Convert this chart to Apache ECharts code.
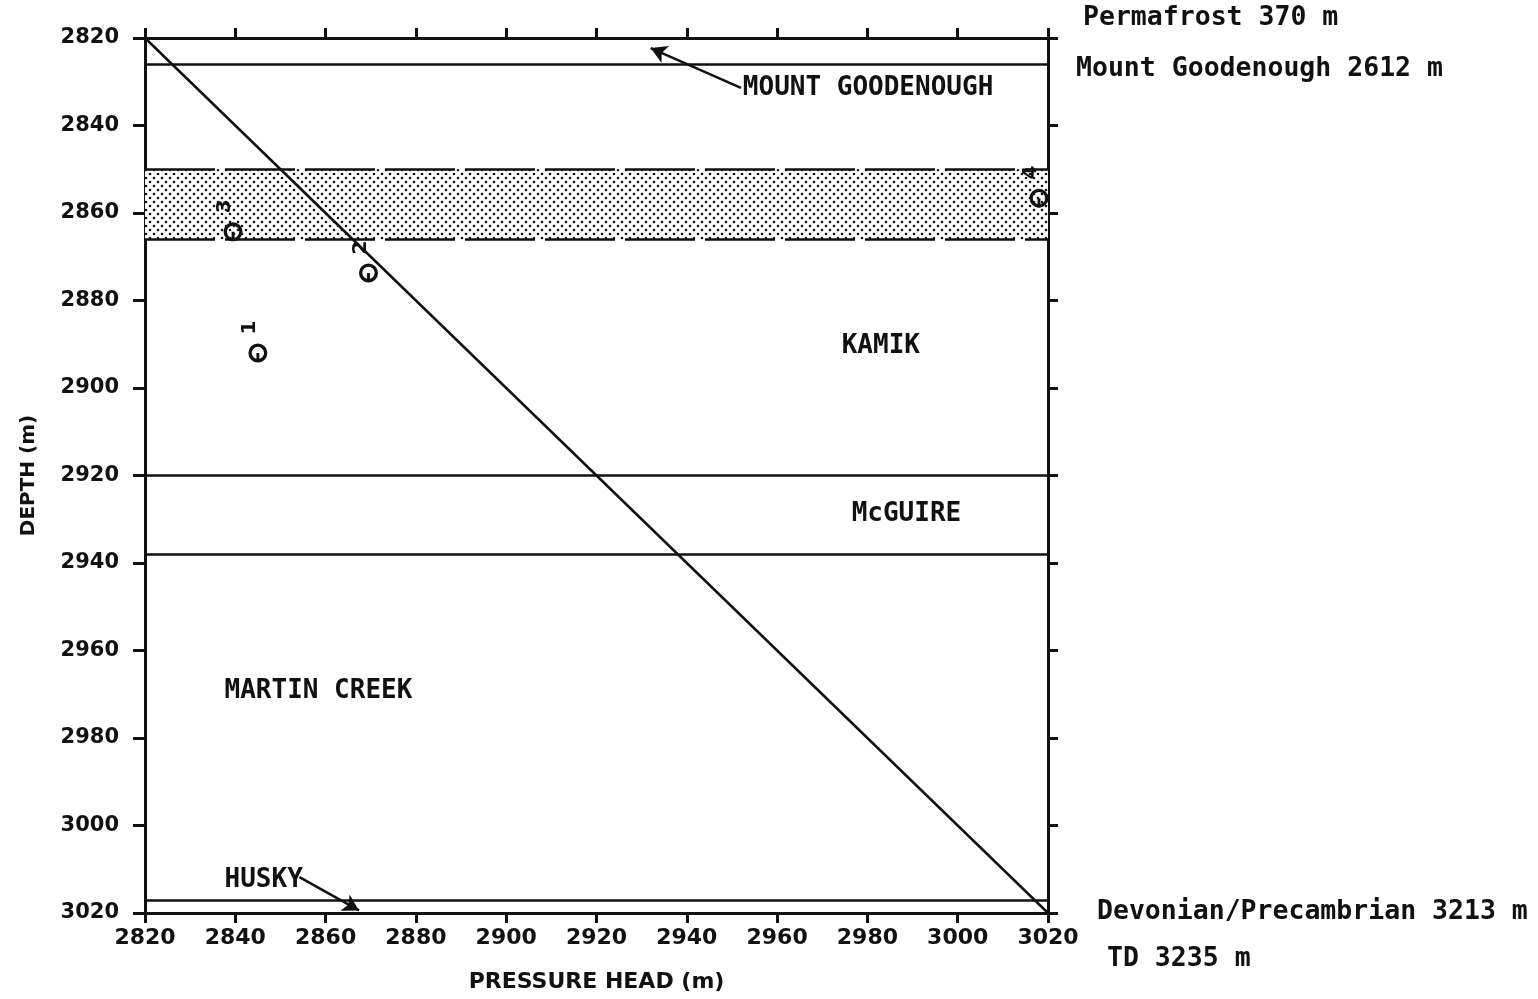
<!DOCTYPE html>
<html><head><meta charset="utf-8">
<script src="https://cdn.jsdelivr.net/npm/echarts@6/dist/echarts.min.js"></script>
<style>html,body{margin:0;padding:0;background:#fff}#c{width:1538px;height:999px}</style>
</head><body><div id="c"></div>
<script>
// ---- data ----
const xTicks = [2820,2840,2860,2880,2900,2920,2940,2960,2980,3000,3020];
const yTicks = [2820,2840,2860,2880,2900,2920,2940,2960,2980,3000,3020];
const hydrostatic = [[2820,2820],[3020,3020]];           // pressure head = depth line
const formationTops = [2826, 2920, 2938, 3017];           // solid horizontal boundaries (m)
const bandTop = 2850, bandBottom = 2866;                  // shaded (dotted) interval
const pointsX = [2845, 2869.5, 2839.5, 3018];             // pressure head of tests
const pointsY = [2892, 2873.7, 2864.3, 2856.6];           // depth of tests
const pointsLabel = ['1','2','3','4'];
const zoneNames = ['MOUNT GOODENOUGH','KAMIK','McGUIRE','MARTIN CREEK','HUSKY'];
const zoneX = [2952.3, 2974.2, 2976.4, 2837.5, 2837.5];
const zoneY = [2831.4, 2890.5, 2928.8, 2969.2, 3012.4];
const arrowMG = [[2952, 2831.4],[2932, 2822.3]];
const arrowHusky = [[2854.2, 3011.8],[2867.4, 3019.4]];
const sideNotes = ['Permafrost 370 m','Mount Goodenough 2612 m','Devonian/Precambrian 3213 m','TD 3235 m'];

// ---- dotted pattern ----
const pat = document.createElement('canvas');
pat.width = 8; pat.height = 8;
const pc = pat.getContext('2d');
pc.fillStyle = '#fff'; pc.fillRect(0,0,8,8);
pc.fillStyle = '#111';
pc.beginPath(); pc.arc(2,2,1.3,0,Math.PI*2); pc.fill();
pc.beginPath(); pc.arc(6,6,1.3,0,Math.PI*2); pc.fill();

const chart = echarts.init(document.getElementById('c'));
const axisLine = {show:true, lineStyle:{color:'#111', width:3}};
const mono = "'DejaVu Sans Mono'";
const sym = 'path://M0,-10A10,10 0 1,1 0,10A10,10 0 1,1 0,-10ZM0,-6.5A6.5,6.5 0 1,0 0,6.5A6.5,6.5 0 1,0 0,-6.5ZM-10,-1.5L0,-1.5L0,1.5L-10,1.5Z';

chart.setOption({
  animation:false,
  grid:{left:145, top:38, width:903, height:875},
  xAxis:[
    {type:'value', min:2820, max:3020, interval:20, position:'bottom',
     axisLine:axisLine, axisTick:{show:true, length:10, inside:false, lineStyle:{color:'#111', width:3}},
     axisLabel:{margin:14, formatter:v=>xTicks.includes(v)?String(v):'',
       fontFamily:'DejaVu Sans', fontWeight:'bold', fontSize:22, color:'#111'},
     splitLine:{show:false},
     name:'PRESSURE HEAD (m)', nameLocation:'middle', nameGap:58,
     nameTextStyle:{fontFamily:'DejaVu Sans', fontWeight:'bold', fontSize:22, color:'#111'}},
    {type:'value', min:2820, max:3020, interval:20, position:'top',
     axisLine:axisLine, axisTick:{show:true, length:10, inside:false, lineStyle:{color:'#111', width:3}},
     axisLabel:{show:false}, splitLine:{show:false}}
  ],
  yAxis:[
    {type:'value', min:2820, max:3020, interval:20, inverse:true, position:'left',
     axisLine:axisLine, axisTick:{show:true, length:12, inside:false, lineStyle:{color:'#111', width:3}},
     axisLabel:{margin:26, formatter:v=>yTicks.includes(v)?String(v):'',
       fontFamily:'DejaVu Sans', fontWeight:'bold', fontSize:21, color:'#111'},
     splitLine:{show:false},
     name:'DEPTH (m)', nameLocation:'middle', nameGap:106, nameRotate:90,
     nameTextStyle:{fontFamily:'DejaVu Sans', fontWeight:'bold', fontSize:20, color:'#111'}},
    {type:'value', min:2820, max:3020, interval:20, inverse:true, position:'right',
     axisLine:axisLine, axisTick:{show:true, length:10, inside:false, lineStyle:{color:'#111', width:3}},
     axisLabel:{show:false}, splitLine:{show:false}}
  ],
  series:[
    {type:'line', data:[], silent:true,
     markArea:{silent:true, itemStyle:{color:{image:pat, repeat:'repeat'}, borderWidth:0},
       data:[[{yAxis:bandTop},{yAxis:bandBottom}]]},
     markLine:{silent:true, symbol:['none','none'], label:{show:false},
       lineStyle:{color:'#111', width:2.5, type:[70,10]},
       data:[{yAxis:bandTop},{yAxis:bandBottom}]}},
    {type:'line', data:[], silent:true,
     markLine:{silent:true, symbol:['none','none'], label:{show:false},
       lineStyle:{color:'#111', width:2.5, type:'solid'},
       data:formationTops.map(v=>({yAxis:v}))}},
    {type:'line', data:hydrostatic, showSymbol:false, lineStyle:{color:'#111', width:2.5}},
    {type:'line', data:[], silent:true,
     markLine:{silent:true, label:{show:false}, symbolSize:[14,16],
       lineStyle:{color:'#111', width:2.5, type:'solid'},
       data:[
         [{coord:arrowMG[0], symbol:'none'},{coord:arrowMG[1], symbol:'arrow'}],
         [{coord:arrowHusky[0], symbol:'none'},{coord:arrowHusky[1], symbol:'arrow'}]
       ]}},
    {type:'scatter', symbol:sym, symbolSize:19, symbolRotate:90,
     itemStyle:{color:'#111', opacity:1},
     data:pointsX.map((x,i)=>({value:[x,pointsY[i]], name:pointsLabel[i]})),
     label:{show:true, formatter:'{b}', position:[1.5,-16], align:'center', verticalAlign:'middle', rotate:90,
       fontFamily:'DejaVu Sans', fontWeight:'bold', fontSize:20, color:'#111'}},
    {type:'scatter', symbol:'circle', symbolSize:1, silent:true,
     itemStyle:{color:'rgba(0,0,0,0)', opacity:0},
     labelLayout:{hideOverlap:false},
     data:zoneX.map((x,i)=>({value:[x,zoneY[i]], name:zoneNames[i]})),
     label:{show:true, formatter:'{b}', position:'right', distance:0, opacity:1,
       fontFamily:mono, fontWeight:'bold', fontSize:26, color:'#111'}}
  ],
  graphic:[
    {type:'text', left:1083, top:5, style:{text:sideNotes[0], font:"bold 26.5px 'DejaVu Sans Mono'", fill:'#111'}},
    {type:'text', left:1076, top:56, style:{text:sideNotes[1], font:"bold 26.5px 'DejaVu Sans Mono'", fill:'#111'}},
    {type:'text', left:1097, top:899, style:{text:sideNotes[2], font:"bold 26.5px 'DejaVu Sans Mono'", fill:'#111'}},
    {type:'text', left:1107, top:946, style:{text:sideNotes[3], font:"bold 26.5px 'DejaVu Sans Mono'", fill:'#111'}}
  ]
});
</script></body></html>
